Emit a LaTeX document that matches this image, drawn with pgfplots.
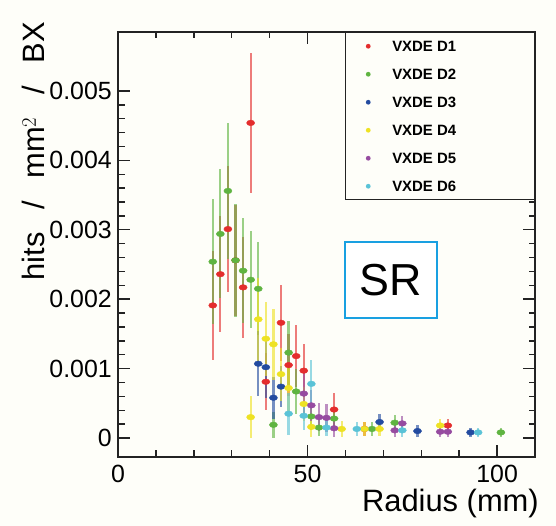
\documentclass[border=0pt]{standalone}
\usepackage{fontspec}
\setmainfont{Liberation Sans}
\usepackage{pgfplots}
\pgfplotsset{compat=1.18}
\definecolor{bgc}{RGB}{254,254,249}
\definecolor{cA}{RGB}{228,45,45}
\definecolor{cB}{RGB}{95,180,65}
\definecolor{cC}{RGB}{35,75,160}
\definecolor{cD}{RGB}{238,226,35}
\definecolor{cE}{RGB}{150,75,160}
\definecolor{cF}{RGB}{90,195,215}
\definecolor{srb}{RGB}{25,160,225}
\definecolor{axc}{RGB}{35,35,35}
\pgfplotsset{dset/.style={only marks, mark=*, color=#1, forget plot,
  mark options={fill=#1, draw=none, xscale=1.45}, mark size=2.8bp,
  error bars/.cd, y dir=both, y explicit, error mark=none,
  error bar style={line width=2.2bp, #1, opacity=0.62}},
  limg/.style={legend image code/.code={\path[draw=none,fill=none] (0bp,0bp) -- (30bp,0bp); \fill[#1, draw=none] (15bp,0bp) circle (2.4bp);}}}
\begin{document}
\begin{tikzpicture}
\fill[bgc, use as bounding box] (-118bp,-69bp) rectangle (438bp,457bp);
\begin{axis}[
  at={(0bp,0bp)}, anchor=south west,
  scale only axis, width=417bp, height=425bp,
  xmin=0, xmax=110, ymin=-0.000274, ymax=0.00585,
  xtick={0,50,100}, xticklabels={0,50,100},
  ytick={0,0.001,0.002,0.003,0.004,0.005},
  yticklabels={0,0.001,0.002,0.003,0.004,0.005},
  minor x tick num=4, minor y tick num=4,
  scaled y ticks=false,
  major tick length=12bp, minor tick length=6.5bp,
  tick style={line width=1.4bp, color=axc},
  axis line style={line width=2bp, color=axc},
  tick label style={font=\fontsize{25}{25}\selectfont, inner sep=0pt},
  xticklabel style={yshift=-8bp},
  yticklabel style={xshift=-6bp},
  /pgf/number format/assume math mode=true,
  xlabel={Radius (mm)}, ylabel={hits\hspace{14bp} / \hspace{14bp}mm$^2$\hspace{14bp} / \hspace{14bp}BX},
  label style={font=\fontsize{31}{31}\selectfont, inner sep=0pt},
  xlabel style={at={(axis description cs:1.0096,-0.0753)}, anchor=north east},
  ylabel style={at={(axis description cs:-0.1751,1.0235)}, anchor=base east},
  legend style={at={(axis description cs:1,1)}, anchor=north east, draw=axc, line width=1.5bp,
    fill=bgc, font=\fontsize{15}{15}\selectfont\bfseries, inner xsep=8bp, inner ysep=8bp,
    row sep=17bp, column sep=9bp, nodes={inner sep=0pt, text height=11bp, text depth=0pt}},
  legend cell align=left,
]
\addlegendimage{limg=cA}
\addlegendentry{\makebox[134bp][l]{VXDE D1}}
\addlegendimage{limg=cB}
\addlegendentry{\makebox[134bp][l]{VXDE D2}}
\addlegendimage{limg=cC}
\addlegendentry{\makebox[134bp][l]{VXDE D3}}
\addlegendimage{limg=cD}
\addlegendentry{\makebox[134bp][l]{VXDE D4}}
\addlegendimage{limg=cE}
\addlegendentry{\makebox[134bp][l]{VXDE D5}}
\addlegendimage{limg=cF}
\addlegendentry{\makebox[134bp][l]{VXDE D6}}
\addplot[dset=cA] coordinates {
(25,0.00191) +- (0,0.00078)
(27,0.00236) +- (0,0.00084)
(29,0.00301) +- (0,0.00091)
(31,0.00256) +- (0,0.00080)
(33,0.00217) +- (0,0.00073)
(35,0.00454) +- (0,0.00101)
(39,0.00081) +- (0,0.00041)
(43,0.00166) +- (0,0.00055)
(45,0.00105) +- (0,0.00045)
(47,0.00118) +- (0,0.00045)
(49,0.00097) +- (0,0.00038)
(57,0.00041) +- (0,0.00024)
(65,0.00013) +- (0,0.00010)
(87,0.00018) +- (0,0.00009)
};
\addplot[dset=cB] coordinates {
(25,0.00254) +- (0,0.00090)
(27,0.00294) +- (0,0.00093)
(29,0.00356) +- (0,0.00098)
(31,0.00256) +- (0,0.00081)
(33,0.00241) +- (0,0.00076)
(35,0.00228) +- (0,0.00070)
(37,0.00215) +- (0,0.00067)
(41,0.00019) +- (0,0.00019)
(45,0.00123) +- (0,0.00046)
(47,0.00067) +- (0,0.00032)
(51,0.00031) +- (0,0.00020)
(53,0.00015) +- (0,0.00012)
(57,0.00028) +- (0,0.00015)
(67,0.00013) +- (0,0.00010)
(73,0.00022) +- (0,0.00011)
(101,0.00008) +- (0,0.00006)
};
\addplot[dset=cC] coordinates {
(37,0.00107) +- (0,0.00047)
(39,0.00102) +- (0,0.00045)
(41,0.00058) +- (0,0.00030)
(43,0.00074) +- (0,0.00030)
(69,0.00023) +- (0,0.00011)
(79,0.00010) +- (0,0.00008)
(93,0.00008) +- (0,0.00006)
};
\addplot[dset=cD] coordinates {
(35,0.00030) +- (0,0.00030)
(37,0.00171) +- (0,0.00060)
(39,0.00143) +- (0,0.00053)
(41,0.00135) +- (0,0.00051)
(43,0.00092) +- (0,0.00038)
(45,0.00072) +- (0,0.00033)
(49,0.00049) +- (0,0.00025)
(51,0.00016) +- (0,0.00015)
(59,0.00013) +- (0,0.00011)
(65,0.00013) +- (0,0.00010)
(69,0.00013) +- (0,0.00010)
(85,0.00018) +- (0,0.00010)
};
\addplot[dset=cE] coordinates {
(49,0.00064) +- (0,0.00030)
(51,0.00047) +- (0,0.00022)
(53,0.00030) +- (0,0.00020)
(55,0.00029) +- (0,0.00020)
(57,0.00014) +- (0,0.00012)
(73,0.00011) +- (0,0.00009)
(75,0.00021) +- (0,0.00011)
(85,0.00009) +- (0,0.00007)
(87,0.00009) +- (0,0.00007)
};
\addplot[dset=cF] coordinates {
(45,0.00035) +- (0,0.00030)
(49,0.00032) +- (0,0.00020)
(51,0.00078) +- (0,0.00034)
(55,0.00015) +- (0,0.00012)
(63,0.00013) +- (0,0.00010)
(75,0.00011) +- (0,0.00009)
(95,0.00008) +- (0,0.00006)
};
\node[anchor=base west, inner sep=0pt, font=\fontsize{15}{15}\selectfont] at (axis description cs:0,1.0165) {FCC-ee CLD};
\node[draw=srb, line width=2.7bp, minimum width=92bp, minimum height=76bp, inner sep=0pt,
  font=\fontsize{45}{45}\selectfont, fill=white] at (axis description cs:0.6547,0.4165) {SR};
\end{axis}
\end{tikzpicture}
\end{document}
